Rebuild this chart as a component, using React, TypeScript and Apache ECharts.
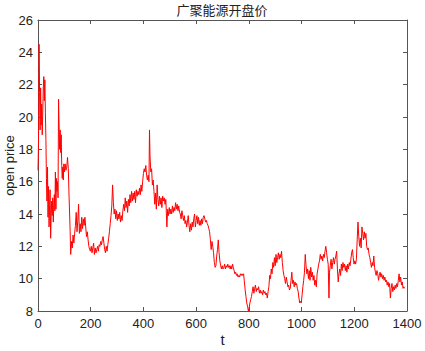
import React, { useEffect, useRef } from "react";
import * as echarts from "echarts";

const TITLE = "广聚能源开盘价";
const X_NAME = "t";
const Y_NAME = "open price";
const X_TICKS = [0, 200, 400, 600, 800, 1000, 1200, 1400];
const Y_TICKS = [8, 10, 12, 14, 16, 18, 20, 22, 24, 26];

const t: number[] = [
  0, 2, 4, 6, 8, 10, 12, 14, 16, 18, 20, 22, 24, 26, 28, 30, 32, 34, 36, 38, 40, 42, 44, 46, 48, 50,
  52, 54, 56, 58, 60, 62, 64, 66, 68, 70, 72, 74, 76, 78, 80, 82, 84, 86, 88, 90, 92, 94, 96, 98, 100,
  103, 106, 109, 112, 115, 118, 120, 122, 124, 127, 130, 133, 136, 139, 142, 145, 148, 151, 154, 157,
  160, 163, 166, 169, 172, 175, 178, 181, 184, 187, 190, 193, 196, 199, 202, 205, 208, 211, 214, 217,
  220, 223, 226, 229, 232, 235, 238, 241, 244, 247, 250, 253, 256, 259, 262, 265, 268, 271, 274, 277,
  280, 283, 286, 289, 292, 295, 298, 301, 304, 307, 310, 313, 316, 319, 322, 325, 328, 331, 334, 337,
  340, 343, 346, 349, 352, 355, 358, 361, 364, 367, 370, 373, 376, 379, 382, 385, 388, 391, 394, 397,
  400, 403, 406, 409, 412, 415, 418, 421, 423, 425, 428, 431, 434, 437, 440, 443, 446, 449, 452, 455,
  458, 461, 464, 467, 470, 473, 476, 479, 482, 485, 489, 492, 495, 498, 501, 504, 507, 510, 513, 516,
  519, 522, 525, 528, 531, 534, 537, 540, 543, 546, 549, 552, 555, 558, 561, 564, 567, 570, 573, 576,
  579, 582, 585, 588, 591, 594, 597, 600, 603, 606, 609, 612, 615, 618, 621, 624, 627, 630, 633, 636,
  639, 642, 645, 648, 651, 654, 657, 660, 663, 666, 669, 672, 675, 678, 681, 684, 687, 690, 693, 696,
  699, 702, 705, 708, 711, 714, 717, 720, 723, 726, 729, 732, 735, 738, 741, 744, 747, 750, 753, 756,
  759, 762, 765, 768, 771, 774, 777, 780, 783, 786, 789, 792, 795, 798, 801, 804, 807, 810, 813, 816,
  819, 822, 825, 828, 831, 834, 837, 840, 843, 846, 849, 852, 855, 858, 861, 864, 867, 870, 873, 876,
  879, 882, 885, 888, 891, 894, 897, 900, 903, 906, 909, 912, 915, 918, 921, 924, 927, 930, 933, 936,
  939, 942, 945, 948, 951, 954, 957, 960, 963, 966, 969, 972, 975, 978, 981, 984, 987, 990, 993, 996,
  999, 1002, 1005, 1008, 1011, 1014, 1017, 1020, 1023, 1026, 1029, 1032, 1035, 1038, 1041, 1044, 1047,
  1050, 1053, 1056, 1059, 1062, 1065, 1068, 1071, 1074, 1077, 1080, 1083, 1086, 1089, 1092, 1095, 1098,
  1101, 1104, 1106, 1109, 1112, 1115, 1118, 1121, 1124, 1127, 1130, 1133, 1136, 1139, 1142, 1145, 1148,
  1151, 1154, 1157, 1160, 1163, 1166, 1169, 1172, 1175, 1178, 1181, 1184, 1187, 1190, 1193, 1196, 1199,
  1202, 1205, 1208, 1211, 1214, 1217, 1220, 1223, 1226, 1229, 1232, 1235, 1238, 1241, 1244, 1247, 1250,
  1253, 1256, 1259, 1262, 1265, 1268, 1271, 1274, 1277, 1280, 1283, 1286, 1289, 1292, 1295, 1298, 1301,
  1304, 1307, 1310, 1313, 1316, 1319, 1322, 1325, 1328, 1331, 1334, 1337, 1340, 1343, 1346, 1349, 1352,
  1355, 1358, 1361, 1364, 1367, 1370, 1373, 1376, 1379, 1382, 1385, 1388, 1391,
];

const openPrice: number[] = [
  16.7, 18.5, 24.5, 21.5, 19.2, 21.8, 19.5, 20.8, 18.9, 20.2, 21.8, 22.5, 21.0, 22.3, 20.3, 18.6, 16.2,
  14.8, 16.9, 13.8, 15.7, 13.2, 14.6, 15.5, 12.5, 14.0, 14.8, 13.9, 15.0, 13.5, 14.6, 15.2, 14.2, 16.6,
  14.3, 16.2, 15.4, 16.0, 15.0, 21.1, 19.5, 18.0, 19.2, 17.8, 18.9, 17.0, 16.2, 16.9, 16.1, 17.1, 16.6,
  17.1, 16.7, 16.9, 17.5, 16.8, 15.0, 14.0, 12.9, 11.5, 12.3, 11.9, 12.7, 12.2, 12.8, 13.3, 14.1, 12.9,
  13.6, 14.6, 12.8, 13.4, 12.9, 13.8, 13.1, 13.7, 13.3, 13.8, 13.2, 12.6, 12.9, 12.4, 12.0, 11.8, 11.7,
  12.0, 11.6, 11.9, 12.2, 11.5, 11.9, 11.6, 11.8, 12.0, 11.7, 12.1, 12.0, 12.3, 12.1, 12.4, 12.6, 12.2,
  11.8, 11.6, 12.0, 11.7, 12.1, 12.5, 12.9, 13.4, 13.9, 14.5, 15.8, 14.7, 14.0, 14.3, 13.7, 14.2, 13.6,
  14.0, 13.7, 14.1, 13.5, 13.9, 13.6, 14.2, 14.6, 14.2, 15.0, 14.4, 14.8, 14.1, 14.9, 14.5, 15.2, 14.7,
  15.4, 14.8, 15.3, 14.9, 15.4, 14.7, 15.5, 15.1, 15.4, 15.2, 15.6, 15.2, 15.8, 15.4, 16.0, 16.5, 16.8,
  16.6, 17.0, 16.4, 16.1, 16.4, 16.0, 19.2, 17.6, 16.6, 16.8, 15.8, 16.1, 15.4, 14.6, 15.3, 14.3, 15.8,
  14.9, 14.5, 15.1, 14.6, 15.0, 14.4, 15.1, 14.8, 15.0, 14.6, 14.9, 13.2, 14.3, 13.9, 14.4, 14.0, 14.3,
  14.0, 14.5, 14.1, 14.4, 14.2, 14.7, 14.3, 14.6, 14.2, 14.5, 14.1, 14.0, 13.7, 14.2, 13.9, 13.6, 13.9,
  13.4, 13.6, 13.2, 13.5, 13.9, 13.3, 12.9, 13.4, 13.0, 13.5, 13.2, 13.7, 14.0, 13.2, 13.6, 13.9, 13.4,
  13.8, 13.3, 13.6, 13.3, 13.7, 13.4, 13.8, 13.9, 13.7, 13.5, 13.6, 13.4, 13.3, 13.1, 12.9, 12.4, 11.8,
  12.3, 12.0, 11.6, 11.0, 10.7, 10.8, 11.4, 11.8, 12.4, 11.6, 11.1, 10.8, 10.6, 10.8, 10.6, 10.7, 10.9,
  10.6, 10.8, 10.7, 10.9, 10.7, 10.8, 10.6, 10.8, 10.6, 10.9, 10.7, 10.5, 10.3, 10.4, 10.2, 10.3, 10.1,
  10.2, 10.1, 10.3, 10.2, 10.3, 10.2, 10.3, 9.8, 9.3, 8.9, 8.5, 8.3, 8.0, 8.2, 8.5, 8.7, 8.9, 9.2, 9.5,
  9.1, 9.4, 9.6, 9.2, 9.4, 9.3, 9.5, 9.1, 9.3, 9.1, 9.2, 9.0, 9.3, 9.1, 9.2, 9.0, 9.1, 8.8, 9.2, 9.5,
  10.2, 10.0, 10.6, 10.3, 11.0, 10.7, 11.3, 10.8, 11.5, 11.0, 11.3, 11.6, 11.2, 11.5, 11.3, 11.7, 11.0,
  10.5, 10.2, 10.0, 9.7, 10.1, 9.8, 9.5, 9.6, 9.3, 9.4, 9.9, 10.4, 9.7, 9.9, 9.5, 9.8, 9.6, 9.7, 9.4,
  9.2, 8.8, 8.5, 8.6, 8.5, 9.0, 9.5, 9.9, 10.4, 11.5, 10.8, 10.3, 10.6, 10.0, 10.5, 9.9, 10.7, 10.1,
  10.4, 9.9, 10.2, 9.6, 9.9, 9.5, 10.3, 10.6, 10.9, 11.1, 11.5, 11.2, 11.4, 11.1, 11.5, 11.3, 11.7,
  12.0, 11.6, 11.2, 10.9, 8.8, 10.4, 10.8, 11.2, 10.6, 11.0, 11.3, 10.9, 11.2, 11.4, 11.7, 10.6, 9.8,
  10.3, 10.6, 10.2, 10.9, 10.5, 11.0, 10.7, 10.9, 10.5, 10.8, 10.4, 10.9, 10.6, 11.0, 10.8, 11.2, 11.6,
  11.8, 11.3, 10.9, 11.1, 10.9, 11.2, 12.4, 13.5, 12.6, 12.0, 12.5, 11.9, 13.2, 12.8, 12.4, 12.9, 12.5,
  12.8, 12.0, 11.8, 11.9, 11.5, 11.3, 11.0, 10.7, 11.0, 10.8, 11.4, 10.7, 10.4, 10.2, 10.5, 10.3, 9.9,
  10.2, 10.4, 10.1, 10.3, 10.0, 10.2, 9.9, 10.1, 9.8, 9.9, 9.6, 9.8, 9.5, 9.7, 8.8, 9.4, 9.7, 9.2, 9.5,
  9.3, 9.6, 9.4, 9.7, 9.5, 9.9, 10.3, 9.8, 10.1, 9.6, 9.8, 9.4, 9.5, 9.4,
];

const AXIS_COLOR = "#555555";
const LABEL_FONT = "'Liberation Sans', Arial, sans-serif";

export default function App() {
  const ref = useRef<HTMLDivElement>(null);
  useEffect(() => {
    document.body.style.margin = "0";
    if (!ref.current) return;
    const chart = echarts.init(ref.current, null, { renderer: "svg" });
    const data = t.map((x, i) => [x, openPrice[i]]);
    const xMin = X_TICKS[0];
    const xMax = X_TICKS[X_TICKS.length - 1];
    const yMin = Y_TICKS[0];
    const yMax = Y_TICKS[Y_TICKS.length - 1];
    const baseX = {
      type: "value",
      min: xMin,
      max: xMax,
      interval: 200,
      splitLine: { show: false },
      axisLine: { show: true, onZero: false, lineStyle: { color: AXIS_COLOR, width: 1 } },
      axisTick: { show: true, inside: true, length: 4, lineStyle: { color: AXIS_COLOR } },
    };
    const baseY = {
      type: "value",
      min: yMin,
      max: yMax,
      interval: 2,
      splitLine: { show: false },
      axisLine: { show: true, onZero: false, lineStyle: { color: AXIS_COLOR, width: 1 } },
      axisTick: { show: true, inside: true, length: 4, lineStyle: { color: AXIS_COLOR } },
    };
    chart.setOption({
      animation: false,
      backgroundColor: "#ffffff",
      title: {
        text: TITLE,
        left: 222,
        textAlign: "center",
        top: 3,
        padding: 0,
        textStyle: {
          fontFamily: "'Noto Sans CJK SC', sans-serif",
          fontSize: 13,
          fontWeight: "normal",
          color: "#222222",
        },
      },
      grid: { left: 38, right: 18, top: 20, bottom: 40, containLabel: false, outerBoundsMode: "none" },
      xAxis: [
        {
          ...baseX,
          position: "bottom",
          name: X_NAME,
          nameLocation: "middle",
          nameGap: 21,
          nameMoveOverlap: false,
          nameTextStyle: { fontFamily: LABEL_FONT, fontSize: 15, color: "#222222" },
          axisLabel: {
            show: true,
            margin: 6,
            fontFamily: LABEL_FONT,
            fontSize: 13,
            color: "#222222",
            formatter: (v: number) => String(v),
          },
        },
        {
          ...baseX,
          position: "top",
          axisLabel: { show: false },
        },
      ],
      yAxis: [
        {
          ...baseY,
          position: "left",
          name: Y_NAME,
          nameLocation: "middle",
          nameGap: 22,
          nameMoveOverlap: false,
          nameTextStyle: { fontFamily: LABEL_FONT, fontSize: 13, color: "#222222" },
          axisLabel: {
            show: true,
            margin: 5,
            fontFamily: LABEL_FONT,
            fontSize: 13,
            color: "#222222",
            formatter: (v: number) => String(v),
          },
        },
        {
          ...baseY,
          position: "right",
          axisLabel: { show: false },
        },
      ],
      series: [
        {
          type: "line",
          data,
          xAxisIndex: 0,
          yAxisIndex: 0,
          showSymbol: false,
          symbol: "none",
          lineStyle: { color: "#ff0000", width: 1 },
          silent: true,
        },
      ],
    });
    return () => chart.dispose();
  }, []);
  return (
    <div
      ref={ref}
      style={{ position: "fixed", left: 0, top: 0, width: 425, height: 351, background: "#fff" }}
    />
  );
}
